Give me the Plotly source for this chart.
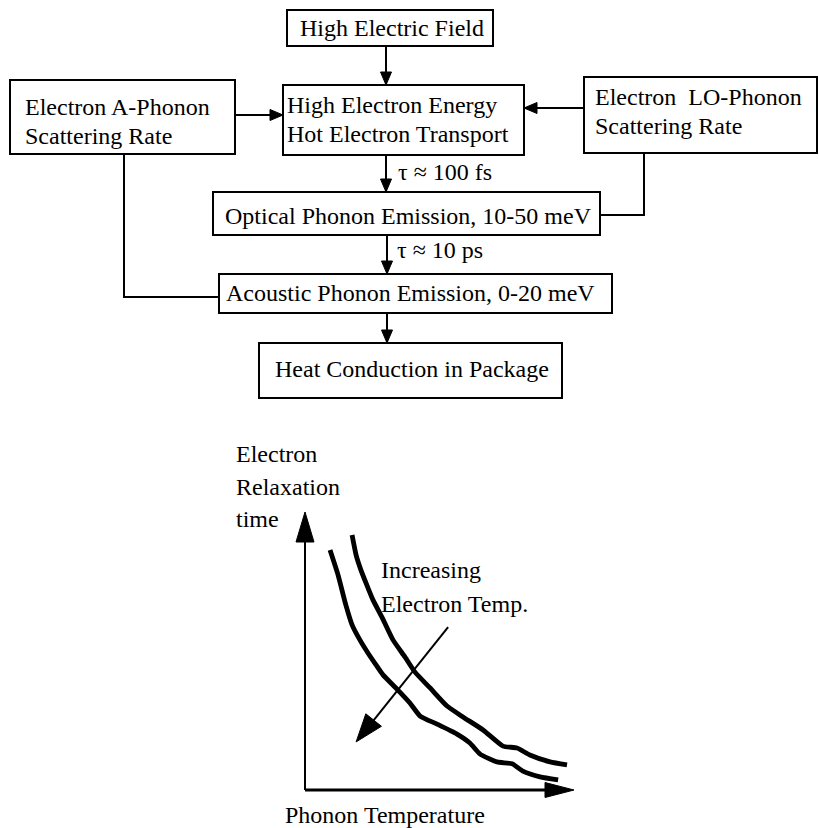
import plotly.graph_objects as go

W, H = 819, 828

# ---------------- data ----------------
# Flow chart labels (one entry per text line)
flow_labels = [
    "High Electric Field",
    "Electron A-Phonon", "Scattering Rate",
    "High Electron Energy", "Hot Electron Transport",
    "Electron  LO-Phonon", "Scattering Rate",
    "τ ≈ 100 fs",
    "Optical Phonon Emission, 10-50 meV",
    "τ ≈ 10 ps",
    "Acoustic Phonon Emission, 0-20 meV",
    "Heat Conduction in Package",
]

# Inset sketch: relaxation time vs phonon temperature (arbitrary units 0-100)
low_curve_T = [9.3, 12.3, 15.2, 17.5, 20.4, 23.4, 26.4, 29.0, 34.2, 39.0, 42.8, 49.1,
               56.5, 61.3, 65.1, 71.4, 77.0, 81.0, 87.4, 94.1]
low_curve_tau = [86.3, 77.3, 66.5, 59.4, 54.0, 49.3, 45.0, 41.4, 36.3, 31.3, 26.6, 23.7,
                 20.1, 16.9, 12.9, 10.1, 9.4, 6.8, 4.7, 3.6]
high_curve_T = [17.5, 19.0, 20.8, 23.0, 25.3, 28.6, 32.7, 37.2, 40.9, 46.5, 52.8, 58.7,
                66.2, 73.6, 78.8, 83.6, 91.1, 97.4]
high_curve_tau = [91.7, 84.5, 79.1, 73.7, 68.3, 62.2, 54.0, 47.8, 42.4, 36.7, 30.2, 26.3,
                  21.6, 15.8, 15.1, 12.6, 10.1, 9.0]
inset_labels = ["Electron", "Relaxation", "time", "Increasing", "Electron Temp.",
                "Phonon Temperature"]

# ---------------- layout helpers ----------------
FONT = dict(family="Liberation Serif", size=24, color="black")
LW = 2
fig = go.Figure()
shapes = []
annotations = []

# inset axes geometry (pixels): origin (IX0, IY0), arrow tips (IX1, IY1)
IX0, IX1 = 305, 574
IY0, IY1 = 790, 512
KX = (IX1 - IX0) / 100.0   # px per unit
KY = (IY0 - IY1) / 100.0
PAD = 10                   # extra units around the inset so nothing is clipped
X2_RANGE = [-PAD, 100 + PAD]
Y2_RANGE = [-PAD, 100 + PAD]
X2_DOM = [(IX0 - PAD * KX) / W, (IX1 + PAD * KX) / W]
Y2_DOM = [1 - (IY0 + PAD * KY) / H, 1 - (IY1 - PAD * KY) / H]


def box(x0, y0, x1, y1):
    shapes.append(dict(type="rect", xref="x", yref="y", x0=x0, y0=y0, x1=x1, y1=y1,
                       line=dict(color="black", width=LW), fillcolor="rgba(0,0,0,0)"))


def seg(pts, xref="x", yref="y", width=LW):
    path = "M " + " L ".join(f"{p[0]},{p[1]}" for p in pts)
    shapes.append(dict(type="path", xref=xref, yref=yref, path=path,
                       line=dict(color="black", width=width)))


def head(tail, tip, length, wid, xref="x", yref="y", kx=1.0, ky=-1.0):
    dx = (tip[0] - tail[0]) * kx
    dy = (tip[1] - tail[1]) * ky
    n = (dx * dx + dy * dy) ** 0.5
    ux, uy = dx / n, dy / n
    bx, by = -ux * length, -uy * length
    px, py = -uy * wid / 2, ux * wid / 2
    p1 = (tip[0] + (bx + px) / kx, tip[1] + (by + py) / ky)
    p2 = (tip[0] + (bx - px) / kx, tip[1] + (by - py) / ky)
    path = f"M {tip[0]},{tip[1]} L {p1[0]},{p1[1]} L {p2[0]},{p2[1]} Z"
    shapes.append(dict(type="path", xref=xref, yref=yref, path=path,
                       fillcolor="black", line=dict(color="black", width=1)))


def arrow(tail, tip, length=13, wid=11):
    seg([tail, tip])
    head(tail, tip, length, wid, kx=1.0, ky=1.0)


def text(t, x, y, xref="x", yref="y"):
    annotations.append(dict(text=t, x=x, y=y, xref=xref, yref=yref, showarrow=False,
                            xanchor="left", yanchor="middle", font=FONT, align="left"))


# ---------------- flow chart ----------------
box(287, 10, 493, 46)       # High Electric Field
box(10, 80, 235, 154)       # A-phonon
box(283, 85, 524, 155)      # Hot electron
box(584, 77, 817, 153)      # LO-phonon
box(213, 192, 600, 235)     # Optical
box(219, 274, 612, 313)     # Acoustic
box(259, 343, 562, 398)     # Heat

arrow((386, 46), (386, 85))
arrow((235, 115), (283, 115))
arrow((584, 108), (524, 108))
arrow((386, 155), (386, 192))
arrow((387, 235), (387, 274))
arrow((387, 313), (387, 343))
seg([(644, 153), (644, 215), (600, 215)])
seg([(124, 154), (124, 297), (219, 297)])

flow_pos = [
    (298, 28),
    (23, 107), (23, 136),
    (285, 105), (285, 134),
    (593, 97), (593, 126),
    (396, 172),
    (223, 216),
    (395, 250),
    (224, 293),
    (273, 369),
]
for lab, (x, y) in zip(flow_labels, flow_pos):
    text(lab, x, y)

# ---------------- inset sketch ----------------
for T, tau in ((low_curve_T, low_curve_tau), (high_curve_T, high_curve_tau)):
    fig.add_trace(go.Scatter(x=T, y=tau, mode="lines", xaxis="x2", yaxis="y2",
                             line=dict(color="black", width=4.8, shape="spline", smoothing=0.5),
                             hoverinfo="skip", showlegend=False))

seg([(0, 0), (0, 92)], xref="x2", yref="y2", width=2)
head((0, 0), (0, 100), 30, 18, xref="x2", yref="y2", kx=KX, ky=-KY)
seg([(0, 0), (92, 0)], xref="x2", yref="y2", width=3)
head((0, 0), (100, 0), 29, 15, xref="x2", yref="y2", kx=KX, ky=-KY)
a_tail, a_tip = (53.2, 58.6), (19.0, 17.3)
seg([a_tail, (a_tip[0] + 3, a_tip[1] + 3.5)], xref="x2", yref="y2", width=2)
head(a_tail, a_tip, 28, 20, xref="x2", yref="y2", kx=KX, ky=-KY)

inset_pos = [(234, 454), (234, 487), (234, 519), (379, 570), (379, 604), (283, 815)]
for lab, (x, y) in zip(inset_labels, inset_pos):
    text(lab, x, y)

fig.add_trace(go.Scatter(x=[0, W], y=[0, H], mode="markers", marker=dict(opacity=0),
                         hoverinfo="skip", showlegend=False))

fig.update_layout(
    width=W, height=H, margin=dict(l=0, r=0, t=0, b=0),
    paper_bgcolor="white", plot_bgcolor="white",
    xaxis=dict(range=[0, W], domain=[0, 1], visible=False, fixedrange=True),
    yaxis=dict(range=[H, 0], domain=[0, 1], visible=False, fixedrange=True),
    xaxis2=dict(range=X2_RANGE, domain=X2_DOM, visible=False, anchor="y2", fixedrange=True),
    yaxis2=dict(range=Y2_RANGE, domain=Y2_DOM, visible=False, anchor="x2", fixedrange=True),
    shapes=shapes, annotations=annotations, showlegend=False,
)

fig.write_html("out.html", config={"displayModeBar": False},
               post_script="document.body.style.margin='0';document.body.style.overflow='hidden';")
